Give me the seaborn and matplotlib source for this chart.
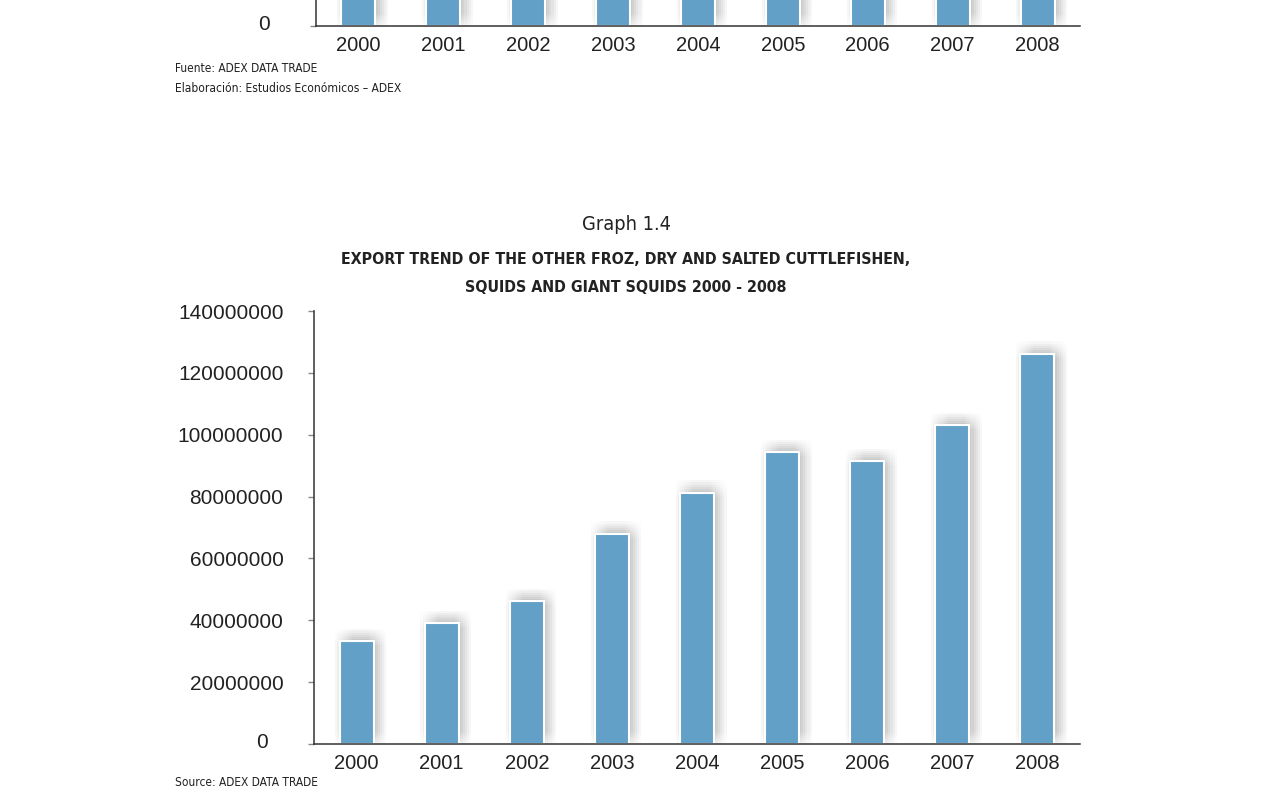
import matplotlib
matplotlib.use('Agg')
import matplotlib.pyplot as plt
import matplotlib.patheffects as pe
from matplotlib import font_manager
from matplotlib.transforms import ScaledTranslation
import seaborn as sns

# Graph 1.4 data (USD FOB)
years = ['2000', '2001', '2002', '2003', '2004', '2005', '2006', '2007', '2008']
export_values = [33300000, 39100000, 46200000, 67900000, 81200000,
                 94400000, 91500000, 103100000, 126100000]
y_ticks = [0, 20000000, 40000000, 60000000, 80000000, 100000000, 120000000, 140000000]

# previous graph on the page: only the feet of its bars are visible
prev_values = [30000000, 35000000, 41000000, 60000000, 72000000,
               85000000, 83000000, 95000000, 115000000]

title_lines = ['EXPORT TREND OF THE OTHER FROZ, DRY AND SALTED CUTTLEFISHEN,',
               'SQUIDS AND GIANT SQUIDS 2000 - 2008']

bar_color = '#62a0c8'
axis_color = '#333333'
text_color = '#222222'

sns.set_style('white')
plt.rcParams['font.family'] = ['Liberation Sans', 'DejaVu Sans']

# the page uses a condensed face for titles and notes; take the narrowest one we have
installed = font_manager.fontManager.ttflist
if any(f.name == 'Liberation Sans Narrow' for f in installed):
    narrow = dict(family=['Liberation Sans Narrow', 'DejaVu Sans'])
elif any(f.name == 'DejaVu Sans' and 'condensed' in str(f.stretch) for f in installed):
    narrow = dict(family=['DejaVu Sans'], fontstretch='condensed')
else:
    narrow = dict(family=['DejaVu Sans'])

# soft drop shadow up and to the right: many faint copies spread over a small grid (box blur)
shifts = [-3, -1.5, 0, 1.5, 3, 4.5, 6, 7.5, 9]
shadow = [pe.SimplePatchShadow(offset=(dx, dy), shadow_rgbFace='black', alpha=0.004)
          for dx in shifts for dy in shifts] + [pe.Normal()]

fig = plt.figure(figsize=(12.72, 7.88), dpi=100)


def draw_bars(ax, values, ticks, ymax):
    sns.barplot(x=years, y=values, color=bar_color, saturation=1, width=0.4,
                edgecolor='white', linewidth=1.5, ax=ax)
    for p in ax.patches:
        p.set_path_effects(shadow)
    ax.set_ylim(0, ymax)
    ax.set_xlim(-0.5, len(years) - 0.5)
    ax.set_yticks(ticks)
    ax.set_yticklabels([str(t) for t in ticks])
    ax.set_xticks([i - 0.5 for i in range(len(years) + 1)], minor=True)
    for s in ['top', 'right']:
        ax.spines[s].set_visible(False)
    for s in ['left', 'bottom']:
        ax.spines[s].set_color(axis_color)
        ax.spines[s].set_linewidth(1.1)
    ax.tick_params(axis='x', which='major', length=0, pad=7, labelsize=14.5, labelcolor=text_color)
    ax.tick_params(axis='x', which='minor', length=4, width=1, color=axis_color, direction='out')
    ax.tick_params(axis='y', length=4, width=1, color='#888888', direction='out', pad=18,
                   labelsize=15, labelcolor=text_color, left=True)
    ax.set_xlabel('')
    ax.set_ylabel('')
    # the zero label sits further in than the others
    for lab in ax.get_yticklabels():
        if lab.get_text() == '0':
            lab.set_transform(lab.get_transform() + ScaledTranslation(-0.16, 0.03, fig.dpi_scale_trans))


def fit_text(t, width_px):
    # scale the font so the text spans the same width as on the page
    renderer = fig.canvas.get_renderer()
    w = t.get_window_extent(renderer).width
    t.set_fontsize(t.get_fontsize() * width_px / w)


# top chart (cut off by the page edge)
ax_top = fig.add_axes([316 / 1272, 762 / 788, 764 / 1272, 0.45])
draw_bars(ax_top, prev_values, [0], 140000000)

# main chart
ax = fig.add_axes([314 / 1272, 44 / 788, 766 / 1272, 433 / 788])
draw_bars(ax, export_values, y_ticks, 140000000)

t1 = fig.text(175 / 1272, 1 - 68 / 788, 'Fuente: ADEX DATA TRADE', fontsize=10,
              color=text_color, va='center', **narrow)
t2 = fig.text(175 / 1272, 1 - 88 / 788, 'Elaboración: Estudios Económicos – ADEX', fontsize=10,
              color=text_color, va='center', **narrow)
t3 = fig.text(626 / 1272, 1 - 224 / 788, 'Graph 1.4', fontsize=17,
              color=text_color, ha='center', va='center', **narrow)
t4 = fig.text(626 / 1272, 1 - 260 / 788, title_lines[0], fontsize=14, fontweight='bold',
              color=text_color, ha='center', va='center', **narrow)
t5 = fig.text(175 / 1272, 1 - 776 / 788, 'Source: ADEX DATA TRADE', fontsize=10,
              color=text_color, va='top', **narrow)

for t, w in [(t1, 143), (t2, 226), (t3, 89), (t4, 573), (t5, 143)]:
    fit_text(t, w)

fig.text(626 / 1272, 1 - 288 / 788, title_lines[1], fontsize=t4.get_fontsize(), fontweight='bold',
         color=text_color, ha='center', va='center', **narrow)

fig.savefig('out.png', dpi=100)
